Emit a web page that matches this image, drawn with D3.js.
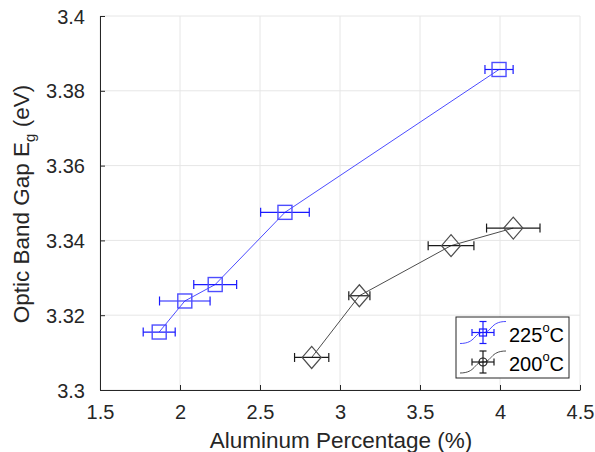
<!DOCTYPE html>
<html><head><meta charset="utf-8">
<script src="https://cdn.jsdelivr.net/npm/d3@7"></script>
<style>
body{margin:0;background:#fff;}
svg{display:block;font-family:"Liberation Sans",Arial,Helvetica,sans-serif;}
</style></head>
<body><svg id="chart" width="595" height="452"></svg>
<script>
// ---- data ----
const x225 = [1.87, 2.03, 2.22, 2.656, 3.994];
const y225 = [3.3155, 3.3238, 3.3282, 3.3475, 3.3857];
const ex225 = [0.10, 0.158, 0.134, 0.152, 0.088];
const x200 = [2.823, 3.121, 3.694, 4.083];
const y200 = [3.3087, 3.3252, 3.3386, 3.3433];
const ex200 = [0.107, 0.066, 0.143, 0.167];
const xTicks = [1.5, 2, 2.5, 3, 3.5, 4, 4.5];
const yTicks = [3.3, 3.32, 3.34, 3.36, 3.38, 3.4];
const legendLabels = ["225", "200"];

const svg = d3.select("#chart");
const L = 100, R = 580, T = 16, B = 390;
const x = d3.scaleLinear().domain([1.5, 4.5]).range([L, R]);
const y = d3.scaleLinear().domain([3.3, 3.4]).range([B, T]);
const axisCol = "#262626";

// grid
const g = svg.append("g");
g.selectAll(".gx").data(xTicks).join("line")
  .attr("x1", d => x(d)).attr("x2", d => x(d)).attr("y1", T).attr("y2", B)
  .attr("stroke", "#e6e6e6").attr("stroke-width", 1);
g.selectAll(".gy").data(yTicks).join("line")
  .attr("y1", d => y(d)).attr("y2", d => y(d)).attr("x1", L).attr("x2", R)
  .attr("stroke", "#e6e6e6").attr("stroke-width", 1);

// axes
const xAxis = d3.axisBottom(x).tickValues(xTicks).tickSizeInner(-5).tickSizeOuter(0).tickPadding(15).tickFormat(d3.format("~g"));
const yAxis = d3.axisLeft(y).tickValues(yTicks).tickSizeInner(-5).tickSizeOuter(0).tickPadding(15).tickFormat(d3.format("~g"));
const gx = svg.append("g").attr("transform", `translate(0,${B})`).call(xAxis);
const gy = svg.append("g").attr("transform", `translate(${L},0)`).call(yAxis);
[gx, gy].forEach(a => {
  a.select(".domain").attr("stroke", axisCol);
  a.selectAll(".tick line").attr("stroke", axisCol);
  a.selectAll(".tick text").attr("fill", axisCol).attr("font-size", 20).attr("font-family", "Liberation Sans, Arial, sans-serif");
});
gy.selectAll(".tick text").attr("dy", "0.35em");

// axis labels
svg.append("text").attr("x", 341).attr("y", 448).attr("text-anchor", "middle")
  .attr("font-size", 22.5).attr("fill", axisCol).text("Aluminum Percentage (%)");
const yl = svg.append("text").attr("transform", "translate(29,204) rotate(-90)")
  .attr("text-anchor", "middle").attr("font-size", 22.5).attr("fill", axisCol);
yl.append("tspan").text("Optic Band Gap E");
yl.append("tspan").attr("font-size", 15).attr("dy", 6).text("g");
yl.append("tspan").attr("dy", -6).text(" (eV)");

// series
function drawSeries(xs, ys, exs, color, lineColor, marker) {
  const pts = xs.map((d, i) => ({x: d, y: ys[i], e: exs[i]}));
  const line = d3.line().x(d => x(d.x)).y(d => y(d.y));
  svg.append("path").datum(pts).attr("d", line).attr("fill", "none")
    .attr("stroke", lineColor).attr("stroke-width", 1);
  const eg = svg.append("g").attr("stroke", color).attr("stroke-width", 1.2).attr("fill", "none");
  pts.forEach(p => {
    const cy = y(p.y), x0 = x(p.x - p.e), x1 = x(p.x + p.e);
    eg.append("line").attr("x1", x0).attr("x2", x1).attr("y1", cy).attr("y2", cy);
    eg.append("line").attr("x1", x0).attr("x2", x0).attr("y1", cy - 4.5).attr("y2", cy + 4.5);
    eg.append("line").attr("x1", x1).attr("x2", x1).attr("y1", cy - 4.5).attr("y2", cy + 4.5);
    if (marker === "square") {
      eg.append("rect").attr("x", x(p.x) - 7).attr("y", cy - 7).attr("width", 14).attr("height", 14)
        .attr("stroke", lineColor).attr("stroke-width", 1.4);
    } else {
      const cx = x(p.x);
      eg.append("path").attr("d", `M${cx},${cy-11}L${cx+9.5},${cy}L${cx},${cy+11}L${cx-9.5},${cy}Z`)
        .attr("stroke", lineColor).attr("stroke-width", 1.2);
    }
  });
}
drawSeries(x225, y225, ex225, "#1a1aff", "#4d4dff", "square");
drawSeries(x200, y200, ex200, "#1a1a1a", "#4d4d4d", "diamond");

// legend
const lg = svg.append("g");
lg.append("rect").attr("x", 456).attr("y", 317).attr("width", 113).attr("height", 61)
  .attr("fill", "#fff").attr("stroke", axisCol).attr("stroke-width", 1);
const legendCols = [["#1a1aff", "#4d4dff"], ["#1a1a1a", "#4d4d4d"]];
legendLabels.forEach((lab, i) => {
  const cy = 332.5 + i * 29.5, cx = 483;
  const [c, lc] = legendCols[i];
  lg.append("path").attr("d", `M460,${cy+11}C476,${cy+11} 474,${cy} ${cx},${cy} S490,${cy-11} 506,${cy-11}`)
    .attr("fill", "none").attr("stroke", lc).attr("stroke-width", 1);
  const e = lg.append("g").attr("stroke", c).attr("stroke-width", 1.2).attr("fill", "none");
  e.append("line").attr("x1", cx).attr("x2", cx).attr("y1", cy - 11).attr("y2", cy + 11);
  e.append("line").attr("x1", cx - 3.5).attr("x2", cx + 3.5).attr("y1", cy - 11).attr("y2", cy - 11);
  e.append("line").attr("x1", cx - 3.5).attr("x2", cx + 3.5).attr("y1", cy + 11).attr("y2", cy + 11);
  e.append("line").attr("x1", cx - 11).attr("x2", cx + 11).attr("y1", cy).attr("y2", cy);
  e.append("line").attr("x1", cx - 11).attr("x2", cx - 11).attr("y1", cy - 3.5).attr("y2", cy + 3.5);
  e.append("line").attr("x1", cx + 11).attr("x2", cx + 11).attr("y1", cy - 3.5).attr("y2", cy + 3.5);
  if (i === 0) e.append("rect").attr("x", cx - 3.5).attr("y", cy - 3.5).attr("width", 7).attr("height", 7);
  else e.append("circle").attr("cx", cx).attr("cy", cy).attr("r", 4);
  const t = lg.append("text").attr("x", 509).attr("y", cy + 9).attr("font-size", 20).attr("fill", "#000");
  t.append("tspan").text(lab);
  t.append("tspan").attr("font-size", 13).attr("dy", -10).text("o");
  t.append("tspan").attr("dy", 10).text("C");
});
</script></body></html>
